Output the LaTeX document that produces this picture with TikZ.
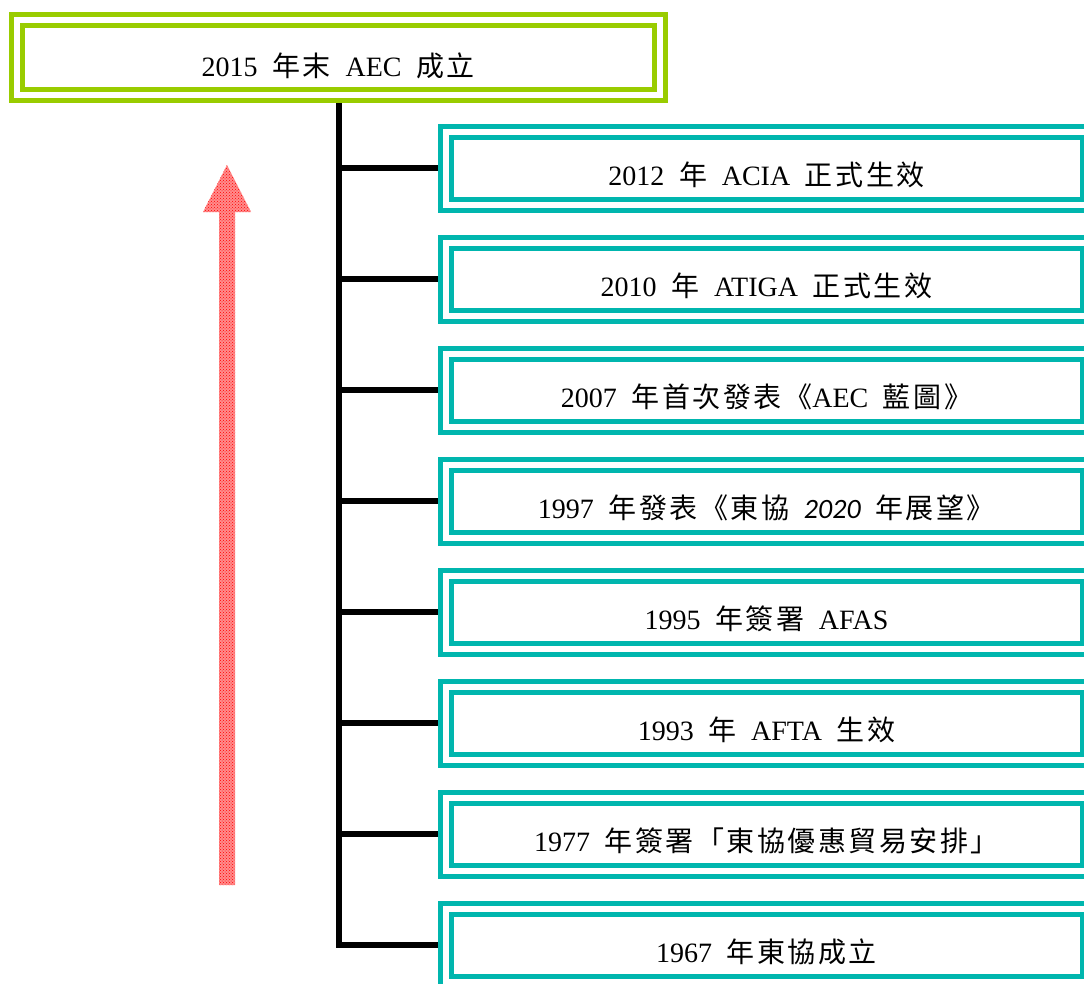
\documentclass[tikz,border=0pt]{standalone}
\usepackage{fontspec}
\setmainfont[WordSpace=2.1]{Liberation Serif}
\newfontfamily\cjk[Scale=1.0,LetterSpace=9]{Noto Sans CJK TC}
\newfontfamily\calit[WordSpace=2.1]{Carlito}
\newcommand\zh[1]{{\cjk #1}}
\usetikzlibrary{patterns,backgrounds}
\definecolor{lime}{RGB}{153,204,0}
\definecolor{teal2}{RGB}{0,182,174}
\definecolor{pinkred}{RGB}{255,140,140}
\tikzset{
  greenbox/.style={draw=lime, line width=5pt, double=white, double distance=6pt,
    minimum width=643.5pt, minimum height=74.25pt, inner sep=0pt},
  tealbox/.style={draw=teal2, line width=5pt, double=white, double distance=6pt,
    minimum width=642pt, minimum height=73pt, inner sep=0pt},
  label/.style={font=\fontsize{28}{32}\selectfont, inner sep=0pt},
  link/.style={line width=6pt, draw=black, line join=miter},
  bigarrow/.style={fill=pinkred, postaction={pattern=crosshatch dots, pattern color=red}}
}
\begin{document}
\begin{tikzpicture}[x=1pt,y=-1pt]
\useasboundingbox (0,0) rectangle (1084,983);
\clip (0,0) rectangle (1084,983);
% boxes
\node[greenbox] (g) at (338.25,57.4) {};
\node[label] (tg) at ([yshift=-8pt]g.center) {2015 \zh{年末} AEC \zh{成立}};
\foreach \i in {0,...,7}{
  \node[tealbox] (b\i) at (766.5,168+111*\i) {};
}
\node[label] (t0) at ([yshift=-7pt]b0.center) {2012 \zh{年} ACIA \zh{正式生效}};
\node[label] (t1) at ([yshift=-7pt]b1.center) {2010 \zh{年} ATIGA \zh{正式生效}};
\node[label] (t2) at ([yshift=-7pt]b2.center) {2007 \zh{年首次發表《}AEC \zh{藍圖》}};
\node[label] (t3) at ([yshift=-7pt]b3.center) {1997 \zh{年發表《東協} {\calit\itshape 2020} \zh{年展望》}};
\node[label] (t4) at ([yshift=-7pt]b4.center) {1995 \zh{年簽署} AFAS};
\node[label] (t5) at ([yshift=-7pt]b5.center) {1993 \zh{年} AFTA \zh{生效}};
\node[label] (t6) at ([yshift=-7pt]b6.center) {1977 \zh{年簽署「東協優惠貿易安排」}};
\node[label] (t7) at ([yshift=-7pt]b7.center) {1967 \zh{年東協成立}};
% connectors
\begin{pgfonlayer}{background}
\draw[link] ([xshift=0.25pt]g.south) |- (b7.west);
\foreach \i in {0,...,6}{
  \draw[link] ([xshift=0.25pt]g.south |- b\i.west) -- (b\i.west);
}
\end{pgfonlayer}
% red arrow
\path[bigarrow] (219,885) -- (219,212) -- (203,212) -- (227,165) -- (251,212) -- (235,212) -- (235,885) -- cycle;
\end{tikzpicture}
\end{document}
